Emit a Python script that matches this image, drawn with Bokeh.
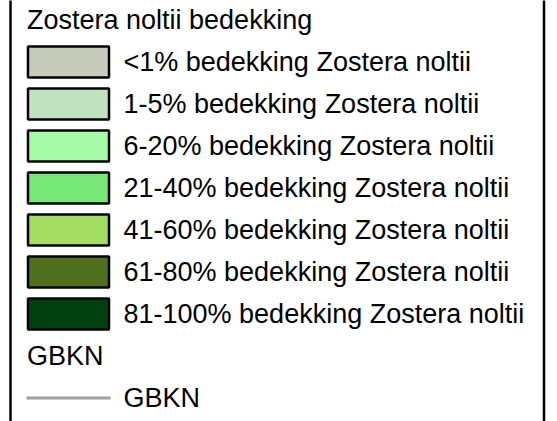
from bokeh.plotting import figure
from bokeh.models import Range1d, ColumnDataSource
from bokeh.core.properties import value
from bokeh.embed import file_html
from bokeh.resources import INLINE

title = "Zostera noltii bedekking"
classes = ["<1%", "1-5%", "6-20%", "21-40%", "41-60%", "61-80%", "81-100%"]
class_suffix = " bedekking Zostera noltii"
colors = ["#c6cbbb", "#c0e2c0", "#a8fca8", "#78e878", "#a4dc64", "#507020", "#004010"]
group2 = "GBKN"
line_label = "GBKN"
line_color = "#a0a0a0"

W, H = 557, 421
p = figure(width=W, height=H, output_backend="svg", toolbar_location=None,
           x_range=Range1d(0, W), y_range=Range1d(H, 0), min_border=0)
p.axis.visible = False
p.grid.visible = False
p.outline_line_color = None
p.background_fill_color = "white"
p.border_fill_color = "white"

FONT = value("Liberation Sans")
FS = value("27px")
row0 = 61.5
step = 42.0

# legend frame (left and right edges)
p.segment(x0=[10, 543.5], y0=[-20, -20], x1=[10, 543.5], y1=[H + 20, H + 20],
          line_color="black", line_width=2.5)

# title
p.text(x=[26.5], y=[row0 - step], text=[title], text_font=FONT, text_font_size=FS,
       text_baseline="middle", text_align="left", text_color="black")

ys = [row0 + step * i for i in range(len(classes))]
src = ColumnDataSource(dict(
    top=[y - 15.5 for y in ys], bottom=[y + 15.5 for y in ys],
    left=[27.5] * len(ys), right=[108.5] * len(ys),
    color=colors, y=ys, x=[123] * len(ys),
    label=[c + class_suffix for c in classes]))
p.quad(left="left", right="right", top="top", bottom="bottom", source=src,
       fill_color="color", line_color="black", line_width=2.5)
p.text(x="x", y="y", text="label", source=src, text_font=FONT, text_font_size=FS,
       text_baseline="middle", text_align="left", text_color="black")

yg = row0 + step * len(classes)
p.text(x=[26.5], y=[yg], text=[group2], text_font=FONT, text_font_size=FS,
       text_baseline="middle", text_align="left", text_color="black")
yl = yg + step
p.line(x=[26, 110], y=[yl, yl], line_color=line_color, line_width=3)
p.text(x=[123], y=[yl], text=[line_label], text_font=FONT, text_font_size=FS,
       text_baseline="middle", text_align="left", text_color="black")

open("out.html", "w").write(file_html(p, INLINE))
